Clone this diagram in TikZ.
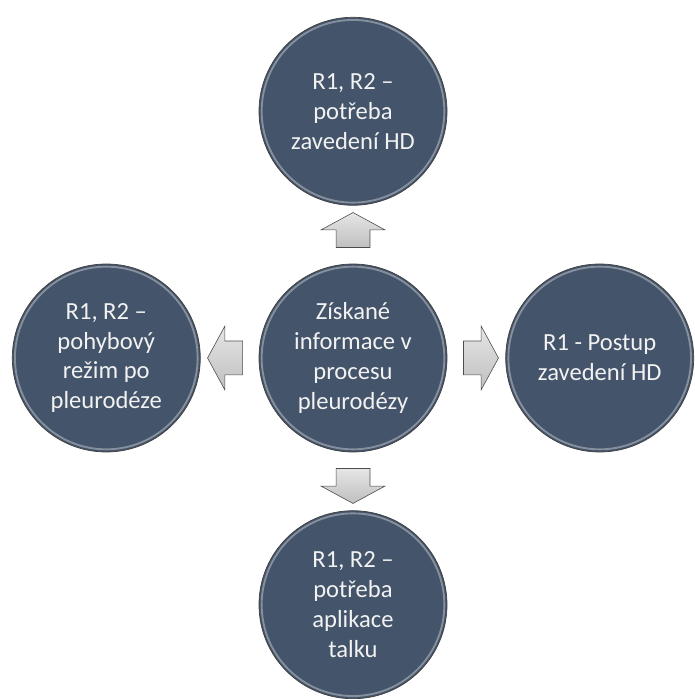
\documentclass[tikz,border=0pt]{standalone}
\usepackage{fontspec}
\setmainfont{Carlito}
\usetikzlibrary{positioning,calc,shapes.arrows}

\definecolor{circfill}{HTML}{44546A}
\definecolor{circtext}{HTML}{F2F2F2}

\begin{document}
\begin{tikzpicture}[
    x=0.03cm, y=0.03cm,
    node distance=1.74cm,
    topic/.style={circle, draw=black!75, line width=0.6pt, fill=circfill,
        minimum size=5.64cm, inner sep=0pt, align=center, text=circtext,
        font=\fontsize{21}{25.5}\selectfont,
        path picture={\draw[white, opacity=0.35, line width=1.6pt]
            (path picture bounding box.center) circle (2.74cm);}},
    blockarrow/.style={single arrow, draw=black!70, line width=0.5pt,
        top color=gray!20, bottom color=gray!50,
        minimum height=1.05cm, minimum width=1.9cm, inner sep=0pt,
        inner ysep=0.5cm, single arrow head extend=0.45cm,
        single arrow tip angle=123}
]
\useasboundingbox (0,0) rectangle (694,699);

\node[topic] (info) at (353,341) {Získané\\informace v\\procesu\\pleurodézy};
\node[topic, above=of info] (need) {R1, R2 --\\potřeba\\zavedení HD};
\node[topic, right=of info] (proc) {R1 - Postup\\zavedení HD};
\node[topic, below=of info] (talc) {R1, R2 --\\potřeba\\aplikace\\talku};
\node[topic, left=of info] (move) {R1, R2 --\\pohybový\\režim po\\pleurodéze};

% arrows between the circles
\node[blockarrow, rotate=90] (toNeed) at ($(info)!0.5!(need)$) {};
\node[blockarrow] (toProc) at ($(info)!0.5!(proc)$) {};
\node[blockarrow, rotate=-90] (toTalc) at ($(info)!0.5!(talc)$) {};
\node[blockarrow, rotate=180] (toMove) at ($(info)!0.5!(move)$) {};
\end{tikzpicture}
\end{document}
